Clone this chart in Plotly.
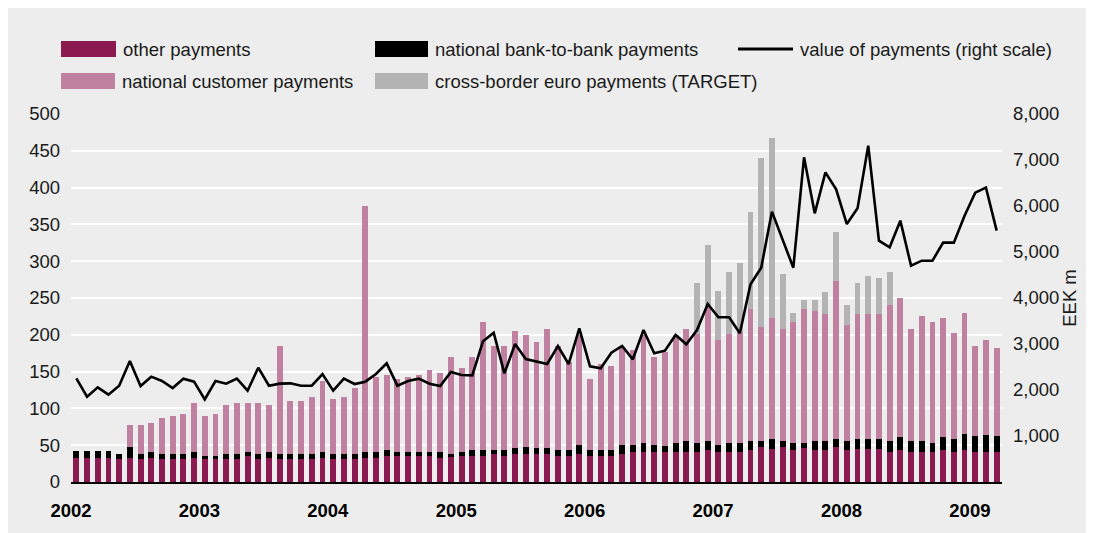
import plotly.graph_objects as go
import pandas as pd

# ---------------- data ----------------
months = [d.strftime("%Y-%m") for d in pd.date_range("2002-01-01", "2009-03-01", freq="MS")]
years = ["2002", "2003", "2004", "2005", "2006", "2007", "2008", "2009"]

other_payments = [
    32.6, 32.6, 32.6, 32.6, 31.2, 32.6, 31.2, 32.6, 31.2, 31.2, 31.2, 32.6,
    31.2, 31.2, 31.2, 31.2, 35.3, 31.2, 32.6, 31.2, 31.2, 31.2, 31.2, 32.6,
    31.2, 31.2, 31.2, 32.6, 32.6, 35.3, 35.3, 35.3, 35.3, 35.3, 32.6, 35.3,
    35.3, 35.3, 35.3, 38.0, 35.3, 38.0, 38.0, 38.0, 38.0, 35.3, 35.3, 38.0,
    35.3, 35.3, 35.3, 38.0, 40.8, 40.8, 40.8, 40.8, 40.8, 40.8, 40.8, 43.5,
    40.8, 40.8, 40.8, 43.5, 47.6, 44.8, 47.6, 43.5, 46.2, 43.5, 43.5, 47.6,
    43.5, 44.8, 44.8, 44.8, 40.8, 43.5, 40.8, 40.8, 40.8, 43.5, 40.8, 43.5,
    40.8, 40.8, 40.8,
]
bank_to_bank = [
    9.5, 9.5, 9.5, 9.5, 6.8, 15.0, 6.8, 8.2, 6.8, 6.8, 6.8, 8.2,
    4.1, 4.1, 6.8, 6.8, 5.5, 6.8, 8.2, 6.8, 6.8, 6.8, 6.8, 8.2,
    6.8, 6.8, 6.8, 8.2, 8.2, 8.2, 5.5, 5.5, 5.5, 5.5, 8.2, 2.7,
    5.5, 8.2, 8.2, 5.5, 8.2, 8.2, 9.6, 8.2, 8.2, 8.2, 8.2, 12.3,
    8.2, 8.2, 8.2, 12.3, 9.5, 12.2, 9.5, 8.2, 12.2, 14.9, 12.2, 12.2,
    9.5, 12.2, 12.2, 12.2, 8.1, 13.6, 8.1, 9.5, 6.8, 12.2, 12.2, 10.8,
    12.2, 13.6, 13.6, 13.6, 14.9, 17.6, 14.9, 14.9, 12.2, 17.6, 17.6, 21.7,
    21.7, 23.1, 21.7,
]
customer_payments = [
    0, 0, 0, 0, 0, 29.8, 39.4, 39.2, 49.0, 51.7, 54.4, 66.2,
    54.4, 57.1, 66.6, 69.0, 66.2, 69.0, 63.8, 146.8, 72.0, 72.0, 77.5, 96.2,
    74.8, 77.5, 90.0, 334.2, 101.9, 101.9, 99.2, 101.9, 104.6, 111.2, 107.2, 132.0,
    114.2, 126.5, 173.5, 141.3, 141.3, 158.8, 152.1, 143.8, 161.8, 141.5, 119.5, 149.4,
    96.5, 116.5, 114.1, 131.7, 128.7, 146.7, 119.7, 127.6, 146.7, 152.3, 148.0, 182.1,
    142.7, 148.0, 150.8, 179.3, 154.9, 164.4, 152.3, 164.4, 182.0, 176.6, 172.6, 214.6,
    157.6, 169.9, 169.9, 169.9, 184.8, 188.9, 152.3, 169.8, 164.4, 161.7, 144.0, 164.4,
    122.3, 129.1, 119.5,
]
target_payments = [
    0, 0, 0, 0, 0, 0, 0, 0, 0, 0, 0, 0,
    0, 0, 0, 0, 0, 0, 0, 0, 0, 0, 0, 0,
    0, 0, 0, 0, 0, 0, 0, 0, 0, 0, 0, 0,
    0, 0, 0, 0, 0, 0, 0, 0, 0, 0, 0, 0,
    0, 0, 0, 0, 0, 0, 0, 0, 0, 0, 69.0, 84.2,
    66.5, 84.3, 93.8, 131.8, 229.6, 244.6, 74.6, 12.2, 12.3, 15.0, 29.9, 66.7,
    27.2, 42.1, 51.7, 48.9, 44.8, 0, 0, 0, 0, 0, 0, 0,
    0, 0, 0,
]
value_of_payments = [
    2254, 1855, 2058, 1898, 2094, 2630, 2087, 2290, 2196, 2043, 2246, 2181,
    1797, 2196, 2138, 2246, 1985, 2485, 2094, 2138, 2145, 2094, 2094, 2345,
    1985, 2246, 2130, 2181, 2348, 2580, 2094, 2196, 2246, 2138, 2087, 2391,
    2326, 2319, 3058, 3246, 2362, 3000, 2674, 2623, 2565, 2956, 2565, 3340,
    2515, 2471, 2811, 2956, 2667, 3304, 2797, 2855, 3196, 2993, 3304, 3869,
    3580, 3580, 3232, 4297, 4659, 5877, 5275, 4659, 7058, 5840, 6732, 6362,
    5608, 5949, 7311, 5246, 5101, 5681, 4703, 4811, 4811, 5203, 5203, 5790,
    6290, 6398, 5464,
]

names = ["other payments", "national bank-to-bank payments", "value of payments (right scale)",
         "national customer payments", "cross-border euro payments (TARGET)"]

# ---------------- style ----------------
C_OTHER = "#8B1A50"
C_CUST = "#C081A0"
C_BANK = "#000000"
C_TARGET = "#B3B3B3"
BG = "#ECEDEC"
TXT = "#1a1a1a"
FONT = "Liberation Sans, Arial, sans-serif"
FS = 18.5

W, H = 1094, 533
OFF = 8  # page body margin
L, R, T, B = 71 - OFF, 1002 - OFF, 114 - OFF, 482 - OFF  # plot area in figure pixels

x = list(range(len(months)))

fig = go.Figure()
for vals, col, nm in [(other_payments, C_OTHER, names[0]),
                      (bank_to_bank, C_BANK, names[1]),
                      (customer_payments, C_CUST, names[3]),
                      (target_payments, C_TARGET, names[4])]:
    fig.add_trace(go.Bar(x=x, y=vals, marker=dict(color=col, line=dict(width=0)),
                         name=nm, showlegend=False, yaxis="y"))

fig.add_trace(go.Scatter(x=x, y=value_of_payments, mode="lines",
                         line=dict(color="#000000", width=2.6),
                         name=names[2], showlegend=False, yaxis="y2"))

def px_x(p):
    return (p - OFF - L) / (R - L)

def px_y(p):
    return (B - (p - OFF)) / (B - T)

shapes = []
annotations = []

# custom legend (positions in screenshot pixels)
legend_items = [
    (names[0], C_OTHER, "box", 61, 116, 49),
    (names[1], C_BANK, "box", 375, 428, 49),
    (names[2], "#000000", "line", 738, 793, 49),
    (names[3], C_CUST, "box", 61, 115, 81),
    (names[4], C_TARGET, "box", 375, 428, 81),
]
for nm, col, kind, xa, xb, yc in legend_items:
    if kind == "box":
        shapes.append(dict(type="rect", xref="paper", yref="paper",
                           x0=px_x(xa), x1=px_x(xb), y0=px_y(yc + 8), y1=px_y(yc - 8),
                           fillcolor=col, line=dict(width=0)))
    else:
        shapes.append(dict(type="line", xref="paper", yref="paper",
                           x0=px_x(xa), x1=px_x(xb), y0=px_y(yc), y1=px_y(yc),
                           line=dict(color=col, width=3)))
    annotations.append(dict(text=nm, xref="paper", yref="paper", x=px_x(xb + 5), y=px_y(yc),
                            xanchor="left", yanchor="middle", showarrow=False,
                            font=dict(family=FONT, size=FS, color=TXT)))

year_ticks = [12 * i - 0.5 for i in range(len(years))]

fig.update_layout(
    width=W, height=H,
    margin=dict(l=L, r=W - R, t=T, b=H - B, pad=0),
    paper_bgcolor=BG, plot_bgcolor=BG,
    barmode="stack", bargap=0.45,
    font=dict(family=FONT, size=FS, color=TXT),
    showlegend=False,
    xaxis=dict(range=[-0.5, len(months) - 0.5], tickmode="array", tickvals=year_ticks,
               ticktext=years, tickfont=dict(family=FONT, size=FS, color="#000000", weight="bold"),
               showgrid=False, zeroline=False, showline=True, linecolor="#000000", linewidth=1.5,
               ticks="", ticklabelstandoff=11, automargin=False),
    yaxis=dict(range=[0, 500], tickmode="array", tickvals=list(range(0, 501, 50)),
               showgrid=True, gridcolor="#FFFFFF", gridwidth=1.5, zeroline=False,
               ticks="", ticklabelstandoff=10, automargin=False),
    yaxis2=dict(range=[0, 8000], overlaying="y", side="right", tickmode="array",
                tickvals=list(range(1000, 8001, 1000)), tickformat=",d",
                showgrid=False, zeroline=False, ticks="", ticklabelstandoff=10,
                title=dict(text="EEK m", standoff=3, font=dict(family=FONT, size=FS, color=TXT)),
                automargin=False),
    shapes=shapes, annotations=annotations,
)

fig.write_html("out.html",
               post_script="document.body.style.overflow='hidden';document.documentElement.style.overflow='hidden';")
